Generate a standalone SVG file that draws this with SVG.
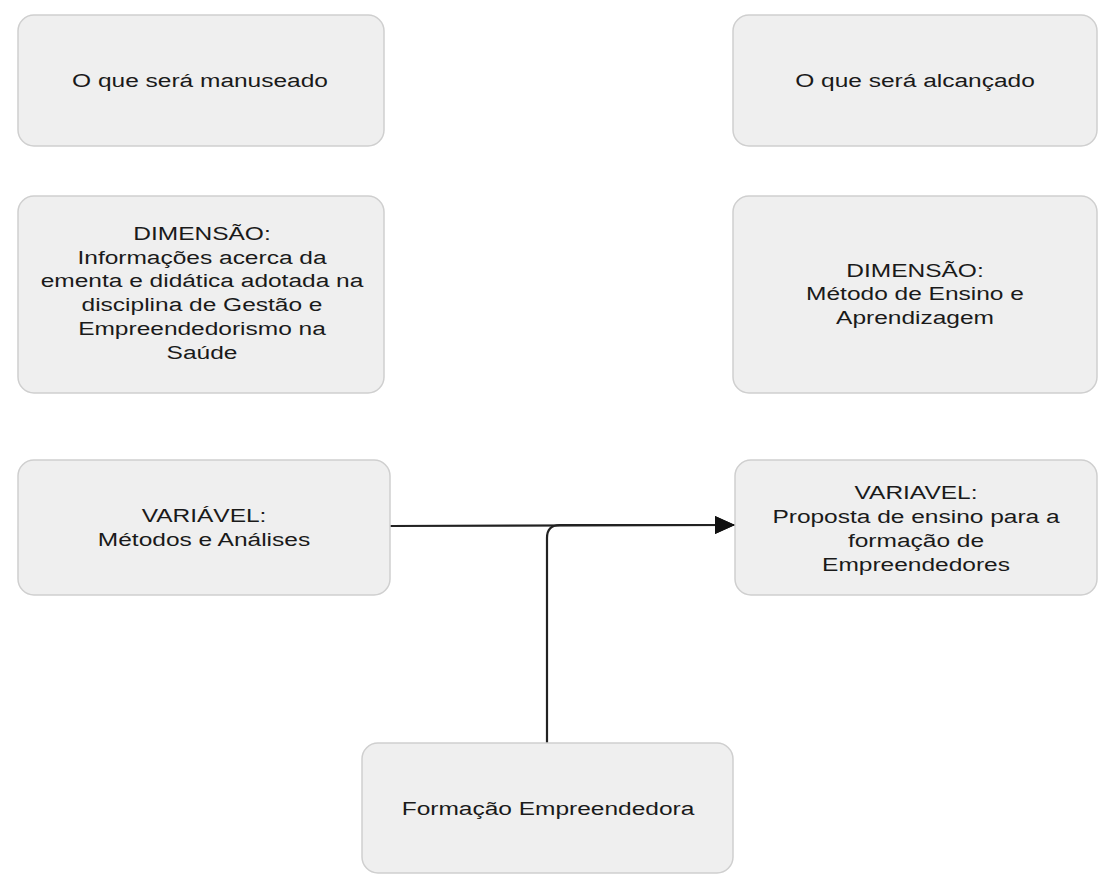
<svg xmlns="http://www.w3.org/2000/svg" width="1099" height="890" viewBox="0 0 1099 890">
<defs>
<style>
.box{fill:#efefef;stroke:#cfcfcf;stroke-width:1.5;}
.t{font-family:"Liberation Sans",Arial,sans-serif;font-size:19px;fill:#1a1a1a;text-anchor:middle;}
.edge{fill:none;stroke:#222;stroke-width:2.2;}
</style>
<marker id="arr" viewBox="0 0 20 20" refX="20" refY="10" markerWidth="20" markerHeight="20" markerUnits="userSpaceOnUse" orient="auto">
<path d="M0,1 L20,10 L0,19 Z" fill="#111"/>
</marker>
</defs>
<rect width="1099" height="890" fill="#ffffff"/>
<g id="connectors">
<path class="edge" d="M390,526 L735,525" stroke="#444" marker-end="url(#arr)"/>
<path class="edge" d="M547,743 L547,538 Q547,525 560,525 L735,525" stroke-width="2.6" marker-end="url(#arr)"/>
</g>
<g id="n1">
<rect class="box" x="18" y="15" width="366" height="131" rx="16"/>
<g transform="translate(200,0) scale(1.29,1)"><text class="t" x="0" y="87">O que será manuseado</text></g>
</g>
<g id="n2">
<rect class="box" x="18" y="196" width="366" height="197" rx="16"/>
<g transform="translate(202,0) scale(1.29,1)"><text class="t" x="0" y="240">DIMENSÃO:<tspan x="0" dy="23.75">Informações acerca da</tspan><tspan x="0" dy="23.75">ementa e didática adotada na</tspan><tspan x="0" dy="23.75">disciplina de Gestão e</tspan><tspan x="0" dy="23.75">Empreendedorismo na</tspan><tspan x="0" dy="23.75">Saúde</tspan></text></g>
</g>
<g id="n3">
<rect class="box" x="18" y="460" width="372" height="135" rx="16"/>
<g transform="translate(204,0) scale(1.29,1)"><text class="t" x="0" y="522">VARIÁVEL:<tspan x="0" dy="24">Métodos e Análises</tspan></text></g>
</g>
<g id="n4">
<rect class="box" x="733" y="15" width="364" height="131" rx="16"/>
<g transform="translate(915,0) scale(1.29,1)"><text class="t" x="0" y="87">O que será alcançado</text></g>
</g>
<g id="n5">
<rect class="box" x="733" y="196" width="364" height="197" rx="16"/>
<g transform="translate(915,0) scale(1.29,1)"><text class="t" x="0" y="277">DIMENSÃO:<tspan x="0" dy="23.5">Método de Ensino e</tspan><tspan x="0" dy="23.5">Aprendizagem</tspan></text></g>
</g>
<g id="n6">
<rect class="box" x="735" y="460" width="362" height="135" rx="16"/>
<g transform="translate(916,0) scale(1.29,1)"><text class="t" x="0" y="499">VARIAVEL:<tspan x="0" dy="24">Proposta de ensino para a</tspan><tspan x="0" dy="24">formação de</tspan><tspan x="0" dy="24">Empreendedores</tspan></text></g>
</g>
<g id="n7">
<rect class="box" x="362" y="743" width="371" height="130" rx="16"/>
<g transform="translate(548,0) scale(1.29,1)"><text class="t" x="0" y="815">Formação Empreendedora</text></g>
</g>
</svg>
